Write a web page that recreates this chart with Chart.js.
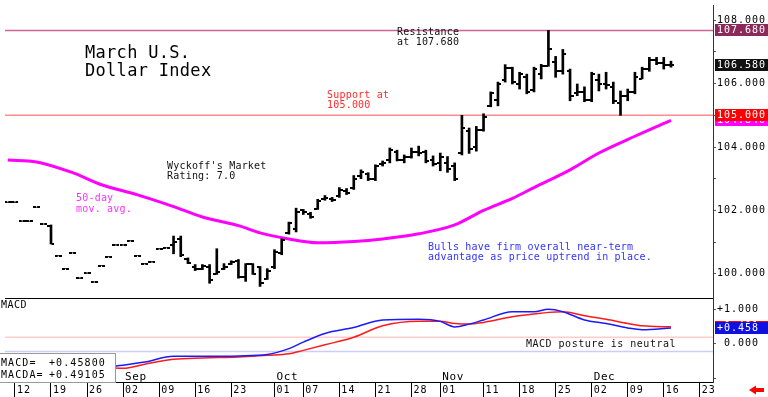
<!DOCTYPE html>
<html>
<head>
<meta charset="utf-8">
<title>March U.S. Dollar Index</title>
<script src="https://cdn.jsdelivr.net/npm/chart.js@4.4.1/dist/chart.umd.min.js"></script>
<style>
  html, body { margin: 0; padding: 0; background: #fff; }
  #wrap { width: 768px; height: 397px; }
</style>
</head>
<body>
<div id="wrap"><canvas id="dxChart" width="768" height="397"></canvas></div>
<script>
// trading days are numbered on weekdays only, 0 = Mon Aug 12
const firstDay = -1;

// daily bars, one entry per trading day starting at firstDay
const opens = [
  102.25, 102.25, 101.66, 101.66, 102.10, 101.57, 101.50, 100.57, 100.16, 100.66,
  99.86, 100.02, 99.74, 100.26, 100.54, 100.91, 100.91, 101.04, 100.57, 100.32,
  100.38, 100.79, 100.82, 100.92, 101.10, 100.45, 100.20, 100.15, 100.20, 100.00,
  100.15, 100.30, 100.40, 99.90, 100.30, 100.20, 99.85, 100.20, 100.65, 101.30,
  101.40, 102.00, 101.90, 102.05, 102.35, 102.35, 102.45, 102.60, 102.70, 103.10,
  103.15, 103.00, 103.45, 103.60, 103.85, 103.60, 103.70, 103.85, 103.85, 103.60,
  103.50, 103.50, 103.40, 103.80, 104.50, 104.00, 104.55, 105.30, 105.50, 106.10,
  106.50, 106.00, 106.20, 105.80, 106.30, 106.55, 106.68, 106.40, 106.40, 105.70,
  105.75, 105.50, 106.10, 106.00, 105.90, 105.40, 105.60, 105.75, 106.15, 106.45,
  106.75, 106.65, 106.60
];
const highs = [
  102.25, 102.25, 101.66, 101.66, 102.10, 101.57, 101.54, 100.57, 100.16, 100.66,
  99.86, 100.02, 99.74, 100.26, 100.54, 100.91, 100.91, 101.04, 100.57, 100.32,
  100.38, 100.79, 100.82, 101.19, 101.19, 100.50, 100.29, 100.29, 100.29, 100.79,
  100.32, 100.41, 100.45, 100.32, 100.32, 100.23, 100.16, 100.76, 101.10, 101.63,
  102.07, 102.03, 101.94, 102.35, 102.47, 102.41, 102.72, 102.69, 103.10, 103.28,
  103.19, 103.44, 103.56, 103.97, 103.90, 103.75, 103.97, 104.03, 103.90, 103.72,
  103.81, 103.70, 103.50, 105.00, 104.60, 104.65, 105.05, 105.74, 106.05, 106.60,
  106.52, 106.36, 106.30, 106.52, 106.61, 107.68, 106.86, 107.08, 106.46, 105.99,
  105.90, 106.36, 106.30, 106.36, 106.05, 105.77, 105.83, 106.36, 106.52, 106.83,
  106.83, 106.83, 106.71
];
const lows = [
  102.25, 102.25, 101.66, 101.66, 102.10, 101.57, 100.94, 100.57, 100.16, 100.66,
  99.86, 100.02, 99.74, 100.26, 100.54, 100.91, 100.91, 101.04, 100.57, 100.32,
  100.38, 100.79, 100.82, 100.63, 100.54, 100.32, 100.10, 100.13, 99.70, 99.98,
  100.13, 100.29, 99.86, 99.76, 99.98, 99.60, 99.82, 100.16, 100.60, 101.25,
  101.32, 101.87, 101.75, 102.03, 102.32, 102.28, 102.41, 102.50, 102.66, 103.00,
  102.94, 102.94, 103.40, 103.50, 103.56, 103.50, 103.65, 103.72, 103.50, 103.40,
  103.25, 103.20, 102.94, 103.75, 103.80, 103.87, 104.50, 105.27, 105.30, 106.05,
  105.99, 105.83, 105.68, 105.74, 106.15, 106.55, 106.20, 106.30, 105.46, 105.62,
  105.43, 105.43, 105.77, 105.83, 105.37, 105.00, 105.46, 105.68, 106.15, 106.39,
  106.60, 106.46, 106.52
];
const closes = [
  102.25, 102.25, 101.66, 101.66, 102.10, 101.57, 100.95, 100.57, 100.16, 100.66,
  99.86, 100.02, 99.74, 100.26, 100.54, 100.91, 100.91, 101.04, 100.57, 100.32,
  100.38, 100.79, 100.82, 101.00, 100.60, 100.35, 100.15, 100.25, 99.80, 100.05,
  100.20, 100.38, 99.90, 100.30, 100.00, 99.70, 100.10, 100.70, 101.05, 101.60,
  101.95, 101.95, 101.80, 102.30, 102.40, 102.32, 102.65, 102.55, 103.00, 103.20,
  103.00, 103.40, 103.50, 103.90, 103.60, 103.70, 103.85, 103.80, 103.55, 103.45,
  103.70, 103.30, 103.00, 104.60, 103.95, 104.55, 104.95, 105.70, 106.00, 106.50,
  106.05, 106.30, 105.75, 106.45, 106.55, 107.10, 106.40, 106.95, 105.60, 105.75,
  105.50, 106.30, 106.00, 105.95, 105.45, 105.60, 105.75, 106.20, 106.45, 106.75,
  106.65, 106.60, 106.58
];

// 50-day moving average, read at these trading days
const maDays = [-1, 3, 8, 12, 17, 22, 26, 31, 34, 38, 42, 47, 51, 56, 61, 65, 69, 72, 77, 81, 86, 91];
const maValues = [103.59, 103.53, 103.19, 102.81, 102.49, 102.12, 101.79, 101.52, 101.29, 101.10, 100.98,
  101.02, 101.10, 101.26, 101.54, 102.00, 102.38, 102.72, 103.28, 103.81, 104.34, 104.84];

// MACD panel
const macdDays = [-1, 3, 8, 12, 15, 18, 22, 26, 31, 35, 38, 40, 43, 47, 51, 56, 59, 61, 63, 65, 69, 72, 74, 76, 79, 82, 85, 87, 91];
const macdValues = [-0.55, -0.68, -0.75, -0.68, -0.62, -0.53, -0.36, -0.36, -0.35, -0.31, -0.14, 0.05, 0.30, 0.47,
  0.69, 0.71, 0.65, 0.49, 0.57, 0.69, 0.93, 0.93, 1.00, 0.93, 0.69, 0.59, 0.46, 0.41, 0.458];
const macdaValues = [-0.29, -0.36, -0.50, -0.65, -0.71, -0.59, -0.45, -0.41, -0.38, -0.33, -0.29, -0.19, -0.03, 0.19,
  0.52, 0.65, 0.65, 0.59, 0.57, 0.62, 0.78, 0.86, 0.91, 0.93, 0.81, 0.71, 0.59, 0.52, 0.491];
const macdUpperLevel = 0.19;
const macdLowerLevel = -0.22;
const lastMacd = 0.458;
const lastMacda = 0.491;

// levels
const resistanceLevel = 107.68;
const supportLevel = 105.0;
const lastClose = 106.58;
const lastMa = 104.84;

// x axis labels
const tickDays = [0, 5, 10, 15, 20, 25, 30, 36, 40, 45, 50, 55, 59, 65, 70, 75, 80, 85, 90, 95];
const tickLabels = ['12', '19', '26', '02', '09', '16', '23', '01', '07', '14', '21', '28', '01', '11', '18', '25', '02', '09', '16', '23'];
const monthDays = [15, 36, 59, 80];
const monthLabels = ['Sep', 'Oct', 'Nov', 'Dec'];

const xMin = -1.38;
const xMax = 96.83;
const MONO = '"DejaVu Sans Mono", monospace';

const pt = (xs, ys) => xs.map((x, k) => ({ x: x, y: ys[k] }));
const barPts = (ys) => ys.map((y, k) => ({ x: firstDay + k, y: y }));

// small open / close ticks used as point styles
function tickMark(side) {
  const c = document.createElement('canvas');
  c.width = 7; c.height = 2;
  const g = c.getContext('2d');
  g.fillStyle = '#000';
  g.fillRect(side === 'left' ? 0 : 4, 0, 3, 2);
  return c;
}

function levelLine(value, color, axis) {
  return {
    type: 'line', data: [{ x: xMin, y: value }, { x: xMax, y: value }], yAxisID: axis,
    borderColor: color, borderWidth: 1.5, pointRadius: 0
  };
}

function text(ctx, str, x, y, color, size, spacing) {
  ctx.save();
  ctx.font = size + 'px ' + MONO;
  ctx.letterSpacing = (spacing || 0) + 'px';
  ctx.fillStyle = color;
  ctx.textAlign = 'left';
  ctx.textBaseline = 'middle';
  ctx.fillText(str, x, y);
  ctx.restore();
}

function valueBox(ctx, scale, value, fill, str) {
  const y = scale.getPixelForValue(value);
  ctx.fillStyle = fill;
  ctx.fillRect(715, Math.round(y - 6), 53, 12);
  text(ctx, str, 717, y, '#fff', 10, 1);
}

const decorations = {
  id: 'decorations',
  beforeDraw(chart) {
    const ctx = chart.ctx;
    ctx.save();
    ctx.fillStyle = '#fff';
    ctx.fillRect(0, 0, chart.width, chart.height);
    ctx.restore();
    ctx.letterSpacing = '1px';
  },
  afterDraw(chart) {
    const ctx = chart.ctx;
    const { x, y, yMacd } = chart.scales;
    const area = chart.chartArea;

    // panel separator
    ctx.save();
    ctx.strokeStyle = '#000';
    ctx.lineWidth = 1;
    ctx.beginPath();
    ctx.moveTo(area.left, Math.round(yMacd.top) + 0.5);
    ctx.lineTo(area.right, Math.round(yMacd.top) + 0.5);
    ctx.stroke();
    ctx.restore();

    // notes on the price panel
    text(ctx, 'March U.S.', 85, 54, '#000', 17, 0.3);
    text(ctx, 'Dollar Index', 85, 72, '#000', 17, 0.3);
    text(ctx, 'Resistance', 397, 32, '#111', 10, 0.2);
    text(ctx, 'at 107.680', 397, 42, '#111', 10, 0.2);
    text(ctx, 'Support at', 327, 95, '#ff2a2a', 10, 0.2);
    text(ctx, '105.000', 327, 105, '#ff2a2a', 10, 0.2);
    text(ctx, "Wyckoff's Market", 167, 166, '#111', 10, 0.2);
    text(ctx, 'Rating: 7.0', 167, 176, '#111', 10, 0.2);
    text(ctx, '50-day', 76, 198, '#ff33ff', 10, 0.2);
    text(ctx, 'mov. avg.', 76, 209, '#ff33ff', 10, 0.2);
    text(ctx, 'Bulls have firm overall near-term', 428, 247, '#3333ff', 10, 0.2);
    text(ctx, 'advantage as price uptrend in place.', 428, 257, '#3333ff', 10, 0.2);

    // MACD panel notes
    text(ctx, 'MACD', 1, 305, '#000', 10, 0.5);
    text(ctx, 'MACD posture is neutral', 526, 344, '#111', 10, 0.5);

    // MACD value legend
    ctx.save();
    ctx.fillStyle = '#fff';
    ctx.fillRect(0, 353, 116, 29);
    ctx.strokeStyle = '#999';
    ctx.strokeRect(-0.5, 353.5, 116, 29);
    ctx.restore();
    text(ctx, 'MACD=', 1, 363, '#000', 10, 1.1);
    text(ctx, '+' + (0.458).toFixed(5), 49, 363, '#000', 10, 1.1);
    text(ctx, 'MACDA=', 1, 375, '#000', 10, 1.1);
    text(ctx, '+' + (0.49105).toFixed(5), 49, 375, '#000', 10, 1.1);

    // month names inside the MACD panel
    monthDays.forEach((d, k) => {
      text(ctx, monthLabels[k], x.getPixelForValue(d) + 2, 377, '#000', 11, 0.6);
    });

    // value boxes on the right axis
    valueBox(ctx, y, lastMa, '#ff00ff', lastMa.toFixed(3));
    valueBox(ctx, y, supportLevel, '#ff0000', supportLevel.toFixed(3));
    valueBox(ctx, y, resistanceLevel, '#8b2a5a', resistanceLevel.toFixed(3));
    valueBox(ctx, y, lastClose, '#111', lastClose.toFixed(3));
    valueBox(ctx, yMacd, lastMacda, '#ff0000', '+' + lastMacda.toFixed(3));
    valueBox(ctx, yMacd, lastMacd, '#1010e0', '+' + lastMacd.toFixed(3));

    // red arrow, bottom right
    ctx.save();
    ctx.fillStyle = '#ff0000';
    ctx.beginPath();
    ctx.moveTo(749, 390);
    ctx.lineTo(756, 385.5);
    ctx.lineTo(756, 394.5);
    ctx.closePath();
    ctx.fill();
    ctx.fillRect(755, 388, 9, 4);
    ctx.restore();
  }
};

new Chart(document.getElementById('dxChart'), {
  type: 'line',
  data: {
    datasets: [
      {
        type: 'bar', label: 'range', yAxisID: 'y',
        data: lows.map((l, k) => ({ x: firstDay + k, y: [l, highs[k]] })),
        backgroundColor: '#000', barThickness: 2, borderWidth: 0
      },
      {
        label: 'open', yAxisID: 'y', data: barPts(opens), showLine: false,
        pointStyle: tickMark('left'), pointRadius: 3
      },
      {
        label: 'close', yAxisID: 'y', data: barPts(closes), showLine: false,
        pointStyle: tickMark('right'), pointRadius: 3
      },
      {
        label: '50-day', yAxisID: 'y', data: pt(maDays, maValues),
        borderColor: '#ff00ff', borderWidth: 3, pointRadius: 0, cubicInterpolationMode: 'monotone'
      },
      levelLine(resistanceLevel, '#cc6699', 'y'),
      levelLine(supportLevel, '#ff8c8c', 'y'),
      {
        label: 'MACD', yAxisID: 'yMacd', data: pt(macdDays, macdValues),
        borderColor: '#1a1aff', borderWidth: 1.5, pointRadius: 0, cubicInterpolationMode: 'monotone'
      },
      {
        label: 'MACDA', yAxisID: 'yMacd', data: pt(macdDays, macdaValues),
        borderColor: '#ff1a1a', borderWidth: 1.5, pointRadius: 0, cubicInterpolationMode: 'monotone'
      },
      levelLine(macdUpperLevel, '#ffcccc', 'yMacd'),
      levelLine(macdLowerLevel, '#ccccff', 'yMacd')
    ]
  },
  options: {
    responsive: false,
    animation: false,
    devicePixelRatio: 1,
    layout: { padding: 0 },
    plugins: { legend: { display: false }, tooltip: { enabled: false } },
    scales: {
      x: {
        type: 'linear', min: xMin, max: xMax, offset: false,
        afterBuildTicks: (scale) => { scale.ticks = tickDays.map(v => ({ value: v })); },
        afterFit: (scale) => { scale.height = 15; scale.paddingLeft = 0; scale.paddingRight = 0; },
        grid: { drawOnChartArea: false, drawTicks: true, tickLength: 15, color: '#000', offset: false },
        border: { color: '#000' },
        ticks: {
          align: 'start', padding: -13, labelOffset: 2, maxRotation: 0, autoSkip: false,
          font: { family: MONO, size: 10 }, color: '#000',
          callback: (v) => tickLabels[tickDays.indexOf(v)]
        }
      },
      y: {
        type: 'linear', position: 'right', stack: 'panels', stackWeight: 297,
        min: 99.231, max: 108.483,
        afterFit: (scale) => { scale.width = 55; scale.paddingTop = 0; scale.paddingBottom = 0; },
        grid: { drawOnChartArea: false, tickLength: 3, color: '#555' },
        border: { color: '#333' },
        ticks: {
          stepSize: 1, includeBounds: false, padding: 1,
          font: { family: MONO, size: 10 }, color: '#000',
          callback: (v) => v % 2 === 0 ? v.toFixed(3) : ''
        }
      },
      yMacd: {
        type: 'linear', position: 'right', stack: 'panels', stackWeight: 85,
        min: -1.106, max: 1.323,
        afterFit: (scale) => { scale.width = 55; scale.paddingTop = 0; scale.paddingBottom = 0; },
        grid: { drawOnChartArea: false, tickLength: 3, color: '#555' },
        border: { color: '#333' },
        ticks: {
          stepSize: 0.5, includeBounds: false, padding: 1,
          font: { family: MONO, size: 10 }, color: '#000',
          callback: (v) => v === 1 ? '+1.000' : (v === 0 ? ' 0.000' : '')
        }
      }
    }
  },
  plugins: [decorations]
});
</script>
</body>
</html>
